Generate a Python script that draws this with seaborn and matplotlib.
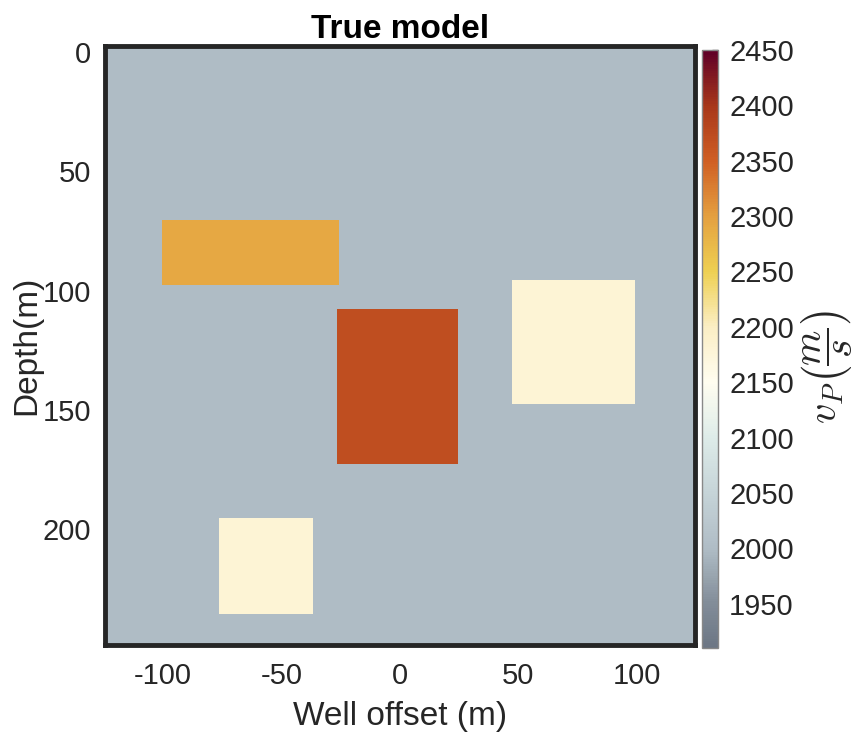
import numpy as np
import matplotlib.pyplot as plt
import seaborn as sns
from matplotlib.colors import LinearSegmentedColormap

# --- data: velocity model (m/s) ---
background_vp = 2000
x_centers = np.arange(-124, 125)   # well offset (m)
z_centers = np.arange(-2, 249)     # depth (m)

rect_x_left = [-100, -26, 48, -76]
rect_x_right = [-25, 25, 100, -36]
rect_z_top = [71, 108, 96, 196]
rect_z_bottom = [98, 173, 148, 236]
rect_vp = [2290, 2370, 2180, 2180]

cbar_ticks = [1950, 2000, 2050, 2100, 2150, 2200, 2250, 2300, 2350, 2400, 2450]
x_ticks = [-100, -50, 0, 50, 100]
z_ticks = [0, 50, 100, 150, 200]
vmin, vmax = 1910, 2450

# build the grid
model = np.full((len(z_centers), len(x_centers)), float(background_vp))
for x0, x1, z0, z1, v in zip(rect_x_left, rect_x_right, rect_z_top, rect_z_bottom, rect_vp):
    cols = (x_centers >= x0) & (x_centers < x1)
    rows = (z_centers >= z0) & (z_centers < z1)
    model[np.ix_(rows, cols)] = v

# colormap
anchors = [
    (1910, (108, 118, 132)),
    (1950, (130, 141, 153)),
    (2000, (176, 189, 198)),
    (2050, (198, 212, 216)),
    (2100, (222, 236, 233)),
    (2150, (255, 253, 240)),
    (2200, (251, 238, 196)),
    (2250, (238, 208, 82)),
    (2300, (228, 160, 64)),
    (2350, (208, 95, 36)),
    (2400, (168, 55, 26)),
    (2450, (95, 0, 40)),
]
cmap = LinearSegmentedColormap.from_list(
    "vp", [((v - vmin) / (vmax - vmin), tuple(c / 255 for c in rgb)) for v, rgb in anchors])

sns.set_style("white")
plt.rcParams['font.family'] = ['Liberation Sans', 'DejaVu Sans']
plt.rcParams['mathtext.fontset'] = 'cm'

fig = plt.figure(figsize=(8.57, 7.32), dpi=100)
ax = fig.add_axes([0.1225, 0.119, 0.688, 0.818])
cax = fig.add_axes([0.819, 0.1148, 0.0187, 0.817])

sns.heatmap(model, ax=ax, cbar_ax=cax, cmap=cmap, vmin=vmin, vmax=vmax,
            xticklabels=False, yticklabels=False, rasterized=True)

dark = '#262626'
for s in ax.spines.values():
    s.set_visible(True)
    s.set_linewidth(3.5)
    s.set_color(dark)

x0_edge = x_centers[0] - 0.5
z0_edge = z_centers[0] - 0.5
ax.set_xticks([v - x0_edge for v in x_ticks])
ax.set_xticklabels([str(v) for v in x_ticks])
ax.set_yticks([v - z0_edge for v in z_ticks])
ax.set_yticklabels([str(v) for v in z_ticks], rotation=0)
ax.tick_params(direction='in', length=6, width=3, color=dark, labelsize=21,
               labelcolor=dark, top=True, right=True, bottom=True, left=True)
ax.tick_params(axis='x', pad=12)
ax.tick_params(axis='y', pad=10)

ax.set_xlabel("Well offset (m)", fontsize=24, color=dark, labelpad=8)
ax.set_ylabel("Depth(m)", fontsize=24, color=dark, labelpad=0)
ax.set_title("True model", fontsize=24, fontweight='bold', pad=6, color='black')

cbar = ax.collections[0].colorbar
cbar.set_ticks(cbar_ticks)
cbar.ax.tick_params(direction='in', length=4, width=1, color='#555555',
                    labelsize=21, labelcolor=dark, pad=8)
cbar.outline.set_visible(True)
cbar.outline.set_edgecolor('#888888')
cbar.outline.set_linewidth(1)
cbar.set_label(r"$v_P\left(\dfrac{m}{s}\right)$", fontsize=29, color=dark, labelpad=4)
cbar.ax.yaxis.label.set_y(0.47)

plt.savefig("out.png", dpi=100)
